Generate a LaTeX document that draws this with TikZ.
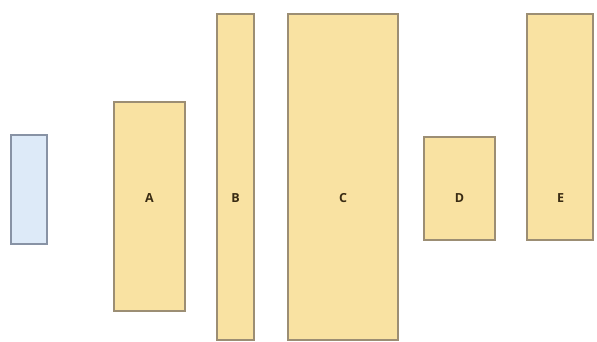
\documentclass[tikz,border=0pt]{standalone}
\usepackage{fontspec}
\setmainfont{Open Sans}
\definecolor{boxfill}{HTML}{F9E2A2}
\definecolor{boxline}{HTML}{9C8E74}
\definecolor{bluefill}{HTML}{DDEAF8}
\definecolor{blueline}{HTML}{8893A5}
\definecolor{labelcol}{HTML}{3A2C14}
\tikzset{
  ybox/.style={draw=boxline, fill=boxfill, line width=1.1pt, inner sep=0pt},
  bbox/.style={draw=blueline, fill=bluefill, line width=1.1pt, inner sep=0pt},
  lbl/.style={font=\bfseries\fontsize{12.5}{14}\selectfont, text=labelcol}
}
\begin{document}
\begin{tikzpicture}[x=1pt,y=-1pt]
\useasboundingbox (0,0) rectangle (597,342);
\draw[bbox] (11,135) rectangle (47,244);
\draw[ybox] (114,102) rectangle (185,311);
\draw[ybox] (217,14) rectangle (254,340);
\draw[ybox] (288,14) rectangle (398,340);
\draw[ybox] (424,137) rectangle (495,240);
\draw[ybox] (527,14) rectangle (593,240);
\node[lbl] (a) at (149.5,198) {A};
\node[lbl] (b) at (235.5,198) {B};
\node[lbl] (c) at (343,198) {C};
\node[lbl] (d) at (459.5,198) {D};
\node[lbl] (e) at (560.5,198) {E};
\end{tikzpicture}
\end{document}
